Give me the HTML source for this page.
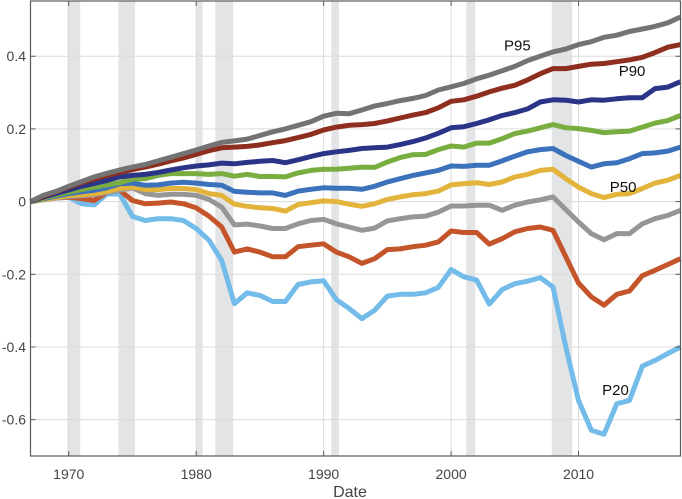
<!DOCTYPE html>
<html><head><meta charset="utf-8"><style>
html,body{margin:0;padding:0;background:#fff;}
svg{display:block;font-family:"Liberation Sans",Arial,sans-serif;}
</style></head><body>
<svg id="chart" width="682" height="499" xmlns="http://www.w3.org/2000/svg">
<g id="bands"></g>
<g id="grid"></g>
<g id="series"></g>
<g id="axes"></g>
<g id="labels"></g>
</svg>
<script>
const years = [];
for (let y = 1967; y <= 2018; y++) years.push(y);
const recessionStarts = [1969.9, 1973.9, 1980.0, 1981.5, 1990.6, 2001.2, 2007.9];
const recessionEnds   = [1970.9, 1975.2, 1980.5, 1982.9, 1991.2, 2001.9, 2009.5];
const xTicks = [1970, 1980, 1990, 2000, 2010];
const yTicks = [0.4, 0.2, 0, -0.2, -0.4, -0.6];
const yTickLabels = ["0.4", "0.2", "0", "-0.2", "-0.4", "-0.6"];
const seriesNames = ["p95","p90","p85","p80","p70","p50","p40","p30","p20"];
const seriesColors = ["#737373","#8e2e1f","#2b3588","#79ad40","#3b72bb","#e2b43c","#969696","#c4542a","#73bbe8"];
const p95 = [0,.017,.028,.042,.055,.068,.078,.087,.095,.102,
 .112,.122,.132,.142,.153,.163,.167,.172,.182,.192,
 .200,.210,.220,.235,.243,.242,.252,.263,.270,.278,
 .284,.292,.307,.316,.325,.338,.348,.360,.372,.388,
 .400,.412,.420,.432,.440,.452,.458,.468,.475,.482,
 .492,.508];
const p90 = [0,.015,.027,.040,.052,.062,.072,.080,.088,.095,
 .103,.112,.120,.130,.140,.148,.150,.152,.156,.162,
 .168,.176,.185,.197,.205,.210,.212,.215,.222,.230,
 .238,.245,.258,.276,.280,.290,.302,.312,.320,.335,
 .352,.366,.366,.372,.378,.380,.385,.390,.397,.410,
 .425,.432];
const p85 = [0,.012,.022,.032,.042,.050,.058,.068,.072,.075,
 .080,.087,.093,.098,.101,.106,.104,.108,.111,.113,
 .107,.115,.124,.132,.137,.141,.146,.148,.150,.157,
 .165,.175,.188,.203,.206,.215,.225,.237,.245,.255,
 .274,.280,.279,.274,.280,.279,.283,.286,.286,.311,
 .315,.330];
const p80 = [0,.009,.018,.026,.033,.040,.046,.052,.062,.063,
 .072,.077,.077,.077,.075,.077,.070,.075,.069,.069,
 .068,.079,.086,.089,.089,.092,.095,.094,.109,.121,
 .129,.130,.143,.153,.150,.161,.161,.173,.187,.194,
 .203,.212,.203,.201,.196,.190,.192,.194,.205,.216,
 .223,.237];
const p70 = [0,.008,.015,.022,.027,.031,.038,.049,.051,.045,
 .046,.051,.053,.051,.047,.045,.028,.026,.024,.024,
 .017,.029,.034,.038,.037,.037,.034,.042,.054,.063,
 .072,.079,.086,.098,.097,.100,.100,.112,.125,.137,
 .143,.146,.127,.111,.095,.104,.107,.118,.132,.134,
 .139,.150];
const p50 = [0,.006,.011,.017,.019,.022,.028,.036,.040,.033,
 .033,.036,.036,.033,.022,.017,-.007,-.013,-.017,-.019,
 -.026,-.008,-.003,.002,.000,-.007,-.013,-.006,.006,.013,
 .019,.022,.029,.046,.049,.052,.047,.054,.068,.075,
 .086,.089,.063,.040,.022,.011,.020,.022,.036,.051,
 .059,.072];
const p40 = [0,.005,.010,.014,.016,.019,.025,.031,.038,.022,
 .017,.020,.020,.017,.006,-.015,-.064,-.062,-.067,-.074,
 -.074,-.061,-.052,-.049,-.061,-.070,-.079,-.073,-.053,-.047,
 -.042,-.040,-.029,-.012,-.012,-.010,-.010,-.024,-.010,-.001,
 .005,.013,-.022,-.056,-.088,-.105,-.088,-.088,-.061,-.047,
 -.038,-.024];
const p30 = [0,.006,.010,.012,.008,.003,.026,.031,.003,-.006,
 -.004,-.001,-.006,-.017,-.040,-.070,-.139,-.130,-.139,-.152,
 -.152,-.124,-.120,-.116,-.139,-.152,-.170,-.157,-.132,-.130,
 -.124,-.120,-.111,-.081,-.085,-.085,-.117,-.102,-.083,-.074,
 -.070,-.079,-.152,-.224,-.262,-.285,-.255,-.246,-.204,-.189,
 -.173,-.157];
const p20 = [0,.005,.010,.012,-.006,-.009,.021,.021,-.041,-.052,
 -.047,-.047,-.052,-.074,-.106,-.162,-.281,-.251,-.258,-.275,
 -.275,-.228,-.221,-.218,-.270,-.294,-.322,-.299,-.260,-.255,
 -.255,-.251,-.236,-.187,-.207,-.216,-.282,-.242,-.226,-.219,
 -.209,-.235,-.400,-.547,-.629,-.640,-.556,-.547,-.453,-.437,
 -.418,-.400];
const seriesValues = [p95,p90,p85,p80,p70,p50,p40,p30,p20];
const labelTexts = ["P95","P90","P50","P20"];
const labelYears = [2005.2, 2014.2, 2013.5, 2012.9];
const labelVals = [0.43, 0.36, 0.04, -0.518];

const L=30.5, R=680.5, T=1, B=456;
const X0=1967, X1=2018, Y0=-0.7, Y1=0.552;
const x = v => L + (v - X0) / (X1 - X0) * (R - L);
const y = v => B - (v - Y0) / (Y1 - Y0) * (B - T);
const NS="http://www.w3.org/2000/svg";
function mk(tag, parent){ const e=document.createElementNS(NS,tag); parent.appendChild(e); return e; }

const bands=document.getElementById('bands');
recessionStarts.forEach((s,i)=>{
  const r=mk('rect',bands);
  
  
  r.setAttribute('x',x(s)); r.setAttribute('y',T);
  r.setAttribute('width',x(recessionEnds[i])-x(s)); r.setAttribute('height',B-T);
  r.setAttribute('fill','#e3e4e6');
});
const grid=document.getElementById('grid');
yTicks.forEach(t=>{
  const l=mk('line',grid);
  
  
  l.setAttribute('x1',L); l.setAttribute('x2',R); l.setAttribute('y1',y(t)); l.setAttribute('y2',y(t));
  l.setAttribute('stroke','#dcdcdc'); l.setAttribute('stroke-width','1');
});
xTicks.forEach(t=>{
  const l=mk('line',grid);
  
  
  l.setAttribute('x1',x(t)); l.setAttribute('x2',x(t)); l.setAttribute('y1',T); l.setAttribute('y2',B);
  l.setAttribute('stroke','#dcdcdc'); l.setAttribute('stroke-width','1');
});
const sg=document.getElementById('series');
for(let i=seriesValues.length-1;i>=0;i--){
  const vals=seriesValues[i];
  const p=mk('polyline',sg);
  
  
  p.setAttribute('points',vals.map((v,j)=>x(years[j]).toFixed(1)+','+y(v).toFixed(1)).join(' '));
  p.setAttribute('fill','none'); p.setAttribute('stroke',seriesColors[i]);
  p.setAttribute('stroke-width','5'); p.setAttribute('stroke-linejoin','round');
}
const ax=document.getElementById('axes');
const box=mk('rect',ax);


box.setAttribute('x',L); box.setAttribute('y',T); box.setAttribute('width',R-L); box.setAttribute('height',B-T);
box.setAttribute('fill','none'); box.setAttribute('stroke','#5a5a5a'); box.setAttribute('stroke-width','1.2');
xTicks.forEach(t=>{
  [[B,B-5],[T,T+5]].forEach(([a,b])=>{
    const l=mk('line',ax);
    
    
    l.setAttribute('x1',x(t)); l.setAttribute('x2',x(t)); l.setAttribute('y1',a); l.setAttribute('y2',b);
    l.setAttribute('stroke','#5a5a5a');
  });
  const tx=mk('text',ax);
  
  
  tx.setAttribute('x',x(t)); tx.setAttribute('y',479); tx.setAttribute('text-anchor','middle');
  tx.setAttribute('font-size','14'); tx.setAttribute('fill','#444'); tx.textContent=t;
});
yTicks.forEach((t,i)=>{
  [[L,L+5],[R,R-5]].forEach(([a,b])=>{
    const l=mk('line',ax);
    
    
    l.setAttribute('x1',a); l.setAttribute('x2',b); l.setAttribute('y1',y(t)); l.setAttribute('y2',y(t));
    l.setAttribute('stroke','#5a5a5a');
  });
  const tx=mk('text',ax);
  
  
  tx.setAttribute('x',26); tx.setAttribute('y',y(t)+5); tx.setAttribute('text-anchor','end');
  tx.setAttribute('font-size','14'); tx.setAttribute('fill','#444'); tx.textContent=yTickLabels[i];
});
const xt=mk('text',ax);


xt.setAttribute('x',350); xt.setAttribute('y',497); xt.setAttribute('text-anchor','middle');
xt.setAttribute('font-size','16'); xt.setAttribute('fill','#444'); xt.textContent='Date';
const lg=document.getElementById('labels');
labelTexts.forEach((s,i)=>{
  const t=mk('text',lg);
  
  
  t.setAttribute('x',x(labelYears[i])); t.setAttribute('y',y(labelVals[i])+5);
  t.setAttribute('text-anchor','middle'); t.setAttribute('font-size','15'); t.setAttribute('fill','#111');
  t.textContent=s;
});
</script>
</body></html>
